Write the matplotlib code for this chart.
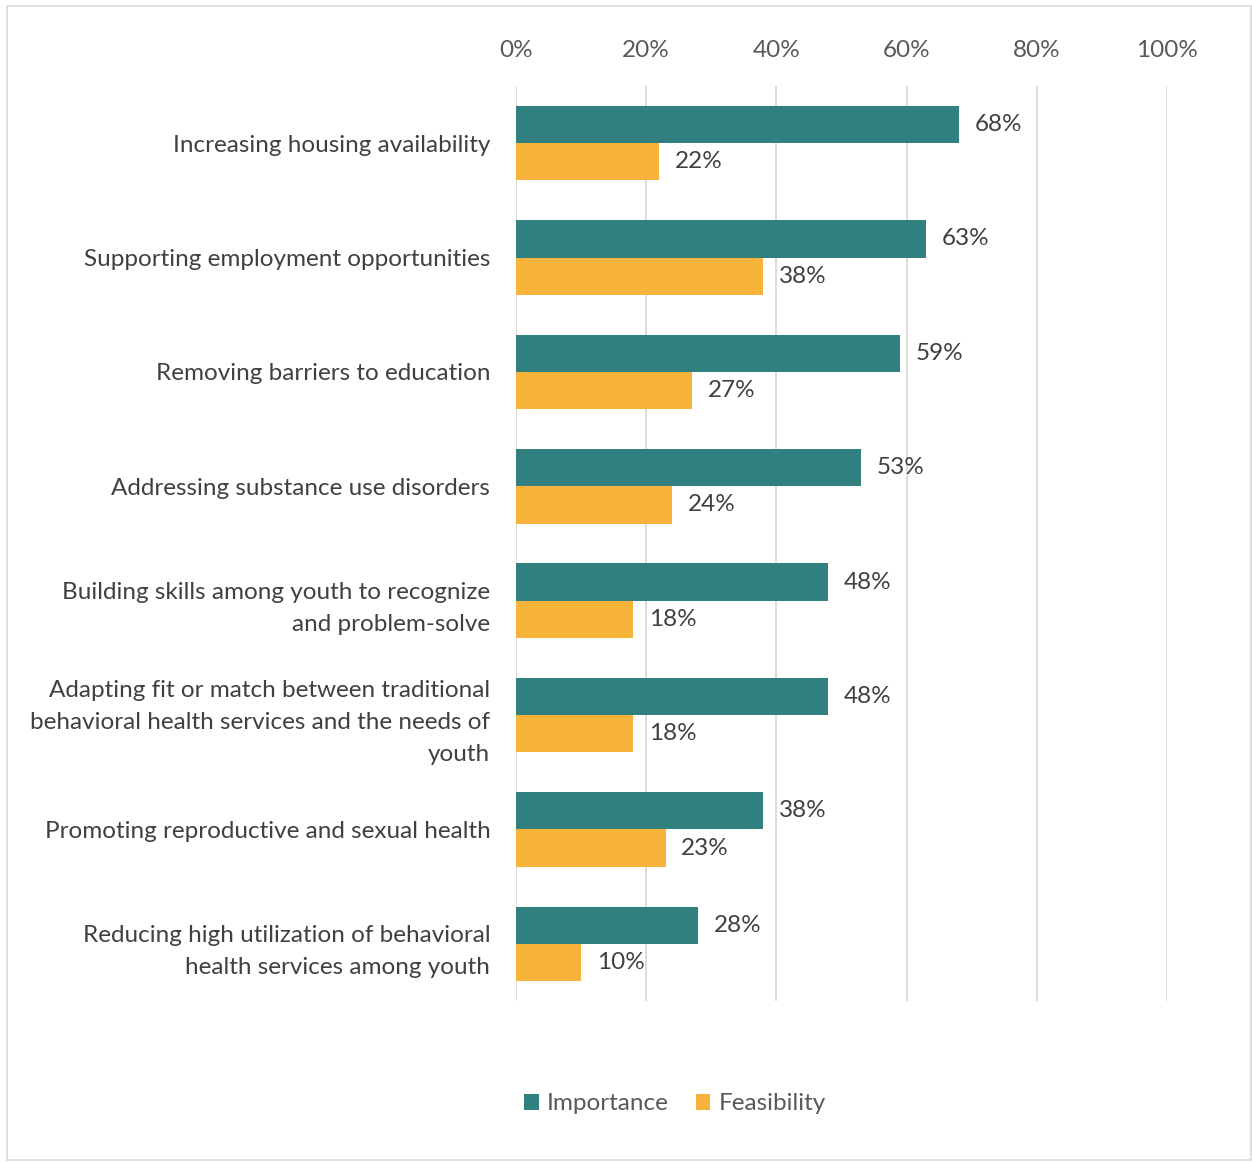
import matplotlib.pyplot as plt
from matplotlib.patches import Rectangle
import numpy as np

plt.rcParams['font.family'] = ['Lato', 'DejaVu Sans']

categories = [
    'Increasing housing availability',
    'Supporting employment opportunities',
    'Removing barriers to education',
    'Addressing substance use disorders',
    'Building skills among youth to recognize\nand problem-solve',
    'Adapting fit or match between traditional\nbehavioral health services and the needs of\nyouth',
    'Promoting reproductive and sexual health',
    'Reducing high utilization of behavioral\nhealth services among youth',
]
importance = [68, 63, 59, 53, 48, 48, 38, 28]
feasibility = [22, 38, 27, 24, 18, 18, 23, 10]
xticks = [0, 20, 40, 60, 80, 100]

teal = '#317F7F'
orange = '#F8B33B'
text_col = '#404040'
fs = 17.5

fig = plt.figure(figsize=(12.52, 11.62), dpi=100)
ax = fig.add_axes([516 / 1252, 1 - 1001 / 1162, 651 / 1252, 915 / 1162])

y = np.arange(len(categories))
h = 0.326
ax.barh(y - h / 2, importance, height=h, color=teal, label='Importance', zorder=3)
ax.barh(y + h / 2, feasibility, height=h, color=orange, label='Feasibility', zorder=3)

for yi, v in zip(y, importance):
    ax.text(v + 2.4, yi - h / 2, f'{v}%', va='center', ha='left', fontsize=fs, color=text_col)
for yi, v in zip(y, feasibility):
    ax.text(v + 2.4, yi + h / 2, f'{v}%', va='center', ha='left', fontsize=fs, color=text_col)

ax.set_xlim(0, 100)
ax.set_ylim(len(categories) - 0.5, -0.5)
ax.set_xticks(xticks)
ax.set_xticklabels([f'{t}%' for t in xticks], fontsize=fs, color='#595959')
ax.xaxis.tick_top()
ax.tick_params(axis='x', length=0, pad=18)
ax.set_yticks(y)
ax.set_yticklabels(categories, fontsize=fs, color=text_col, linespacing=1.66)
ax.tick_params(axis='y', length=0, pad=18.5)
ax.grid(axis='x', color='#D9D9D9', linewidth=1.3, zorder=0)
for s in ax.spines.values():
    s.set_visible(False)

fig.legend(loc='center', bbox_to_anchor=(675 / 1252, 1 - 1104 / 1162), ncol=2,
           frameon=False, fontsize=fs, handlelength=0.6, handleheight=0.6,
           handletextpad=0.35, columnspacing=1.1, labelcolor='#595959')

# light frame around the whole chart area
fig.patches.append(Rectangle((7 / 1252, 0.002), 1 - 7 / 1252 - 0.001, 1 - 6 / 1162 - 0.002,
                             transform=fig.transFigure, fill=False,
                             edgecolor='#D9D9D9', linewidth=1.2))

fig.savefig('out.png', dpi=100)
